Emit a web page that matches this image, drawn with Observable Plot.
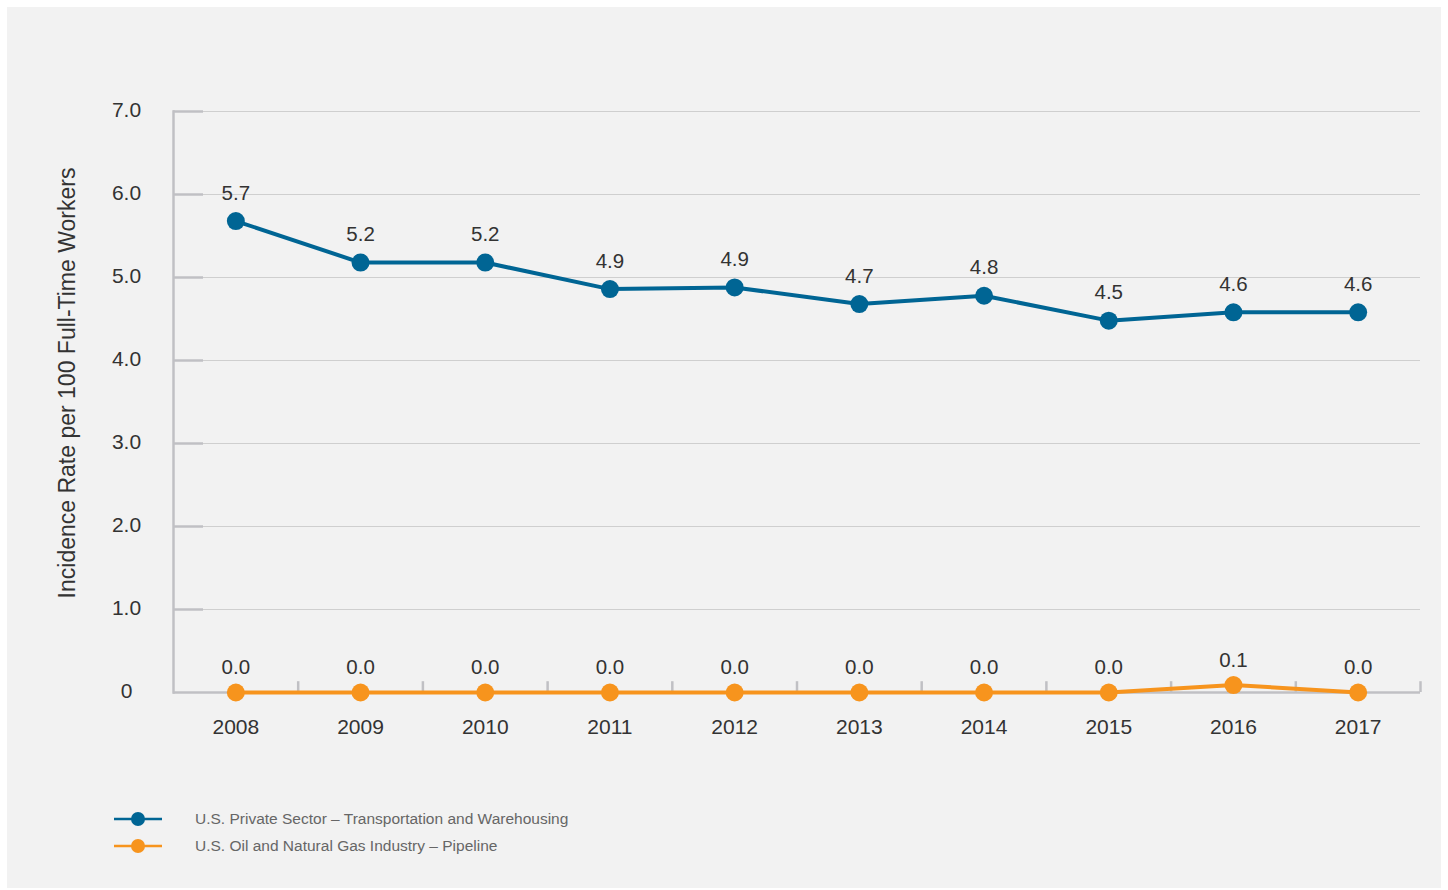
<!DOCTYPE html>
<html>
<head>
<meta charset="utf-8">
<script src="https://cdn.jsdelivr.net/npm/d3@7"></script>
<script src="https://cdn.jsdelivr.net/npm/@observablehq/plot@0.6"></script>
<style>
  html, body { margin: 0; padding: 0; background: #ffffff; }
  #panel { position: absolute; left: 7px; top: 7px; width: 1434px; height: 881px; background: #f2f2f2; font-family: "Liberation Sans", Arial, sans-serif; }
  #chart svg { display: block; }
  .legend { position: absolute; left: 106px; font-size: 15.5px; color: #666; }
  .legend .row { position: absolute; left: 0; height: 20px; white-space: nowrap; }
  .legend svg { position: absolute; left: 0; top: 0; }
  .legend span { position: absolute; left: 82px; top: 1px; line-height: 18px; }
</style>
</head>
<body>
<div id="panel">
  <div id="chart"></div>
  <div class="legend" id="legend"></div>
</div>
<script>
const years = ["2008","2009","2010","2011","2012","2013","2014","2015","2016","2017"];
const transportValues = [5.68, 5.18, 5.18, 4.86, 4.88, 4.68, 4.78, 4.48, 4.58, 4.58];
const pipelineValues = [0.0, 0.0, 0.0, 0.0, 0.0, 0.0, 0.0, 0.0, 0.09, 0.0];
const seriesNames = ["U.S. Private Sector \u2013 Transportation and Warehousing", "U.S. Oil and Natural Gas Industry \u2013 Pipeline"];
const seriesColors = ["#006594", "#f7941d"];
const yTicks = [0, 1, 2, 3, 4, 5, 6, 7];
const yTitle = "Incidence Rate per 100 Full-Time Workers";

const transport = years.map((y, i) => ({year: y, value: transportValues[i], series: seriesNames[0]}));
const pipeline = years.map((y, i) => ({year: y, value: pipelineValues[i], series: seriesNames[1]}));

const W = 1434, H = 770;
const mL = 166, mR = 21, mT = 104, mB = 85;
const step = (W - mL - mR) / years.length;
const axisColor = "#c0c0c4";
const textColor = "#333333";

const chart = Plot.plot({
  width: W, height: H,
  marginLeft: mL, marginRight: mR, marginTop: mT, marginBottom: mB,
  style: {background: "transparent", fontFamily: "Liberation Sans, Arial, sans-serif", overflow: "visible"},
  x: {type: "point", domain: years, padding: 0.5, round: false, axis: null},
  y: {domain: [0, 7], axis: null},
  marks: [
    Plot.ruleY(yTicks.filter(d => d > 0), {y: d => d, stroke: "#cfcfcf", strokeWidth: 1}),
    Plot.ruleY(yTicks.filter(d => d > 0), {y: d => d, stroke: axisColor, strokeWidth: 2.5, insetRight: (W - mL - mR) - 30}),
    Plot.frame({anchor: "left", stroke: axisColor, strokeWidth: 2.5}),
    Plot.ruleY([0], {stroke: axisColor, strokeWidth: 2.5}),
    Plot.ruleX(years, {x: d => d, y1: 0, y2: 0.13, dx: step / 2, stroke: axisColor, strokeWidth: 2.5}),
    Plot.text(yTicks, {y: d => d, frameAnchor: "left", dx: -47, dy: -1, textAnchor: "middle", text: d => d === 0 ? "0" : d.toFixed(1), fontSize: 21, fill: textColor}),
    Plot.text(years, {x: d => d, y: 0, dy: 35, text: d => d, fontSize: 21, fill: textColor}),
    Plot.text([yTitle], {frameAnchor: "left", dx: -106, dy: -19, rotate: -90, textAnchor: "middle", text: d => d, fontSize: 23, fill: textColor}),
    Plot.line(transport, {x: "year", y: "value", stroke: seriesColors[0], strokeWidth: 4}),
    Plot.dot(transport, {x: "year", y: "value", r: 9, fill: seriesColors[0]}),
    Plot.line(pipeline, {x: "year", y: "value", stroke: seriesColors[1], strokeWidth: 4}),
    Plot.dot(pipeline, {x: "year", y: "value", r: 9, fill: seriesColors[1]}),
    Plot.text(transport, {x: "year", y: "value", text: d => d.value.toFixed(1), dy: -28, fontSize: 20.5, fill: textColor}),
    Plot.text(pipeline, {x: "year", y: "value", text: d => d.value.toFixed(1), dy: -25, fontSize: 20.5, fill: textColor})
  ]
});
document.getElementById("chart").appendChild(chart);

const legend = document.getElementById("legend");
legend.style.top = "802px";
seriesNames.forEach((name, i) => {
  const row = document.createElement("div");
  row.className = "row";
  row.style.top = (i * 27) + "px";
  row.innerHTML = `<svg width="50" height="20"><line x1="1" x2="49" y1="10" y2="10" stroke="${seriesColors[i]}" stroke-width="2.5"/><circle cx="25" cy="10" r="7" fill="${seriesColors[i]}"/></svg><span>${name}</span>`;
  legend.appendChild(row);
});
</script>
</body>
</html>
